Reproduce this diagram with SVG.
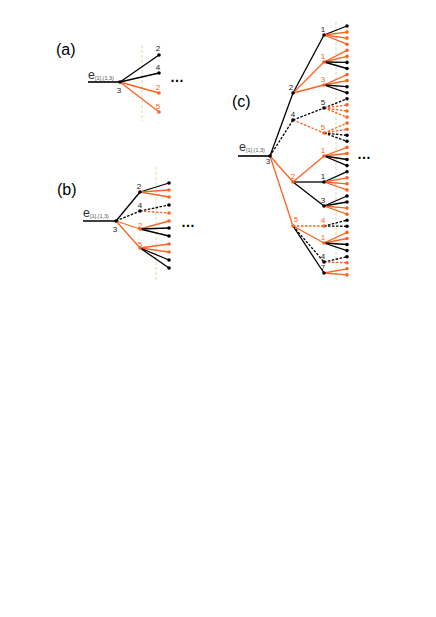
<svg xmlns="http://www.w3.org/2000/svg" width="436" height="617" viewBox="0 0 436 617">
<style>
.b{stroke:#000;stroke-width:1.3;fill:none}
.o{stroke:#fa6420;stroke-width:1.3;fill:none}
.d{stroke-dasharray:2.5,1.5}
.g{stroke:#b5dd8f;stroke-width:0.8;stroke-dasharray:3,2;fill:none}
.root{stroke:#000;stroke-width:1.6}
.nb{fill:#000}
.no{fill:#fa6420}
text{font-family:"Liberation Sans",Arial,sans-serif}
.n{font-size:8px;text-anchor:middle}
.tb{fill:#222}
.to{fill:#fa6420}
.p{font-size:16px;fill:#000}
.e{font-size:12.5px;fill:#333}
.s{font-size:5.5px;fill:#555}
.dots{font-size:14px;fill:#000;font-weight:bold}
</style>
<g id="guides">
<line class="g" x1="142" y1="45" x2="142" y2="121"/>
<line class="g" x1="156" y1="167" x2="156" y2="280"/>
<line class="g" x1="336" y1="22" x2="336" y2="283"/>
</g>
<g id="connectors">
<line class="root" x1="88" y1="82" x2="120" y2="82"/>
<line class="b" x1="120" y1="82" x2="159" y2="55"/>
<line class="b" x1="120" y1="82" x2="159" y2="73"/>
<line class="o" x1="120" y1="82" x2="159" y2="93"/>
<line class="o" x1="120" y1="82" x2="159" y2="112"/>
<line class="root" x1="83" y1="221" x2="116" y2="221"/>
<line class="b" x1="116" y1="221" x2="140" y2="192"/>
<line class="b d" x1="116" y1="221" x2="140" y2="211"/>
<line class="o" x1="116" y1="221" x2="140" y2="229"/>
<line class="o" x1="116" y1="221" x2="140" y2="248"/>
<line class="b" x1="140" y1="192" x2="169" y2="183"/>
<line class="o" x1="140" y1="192" x2="169" y2="190"/>
<line class="o" x1="140" y1="192" x2="169" y2="197"/>
<line class="b d" x1="140" y1="211" x2="169" y2="205"/>
<line class="o d" x1="140" y1="211" x2="169" y2="213"/>
<line class="o" x1="140" y1="229" x2="169" y2="221"/>
<line class="b" x1="140" y1="229" x2="169" y2="228"/>
<line class="b" x1="140" y1="229" x2="169" y2="236"/>
<line class="o" x1="140" y1="248" x2="169" y2="244"/>
<line class="o" x1="140" y1="248" x2="169" y2="252"/>
<line class="b" x1="140" y1="248" x2="169" y2="260"/>
<line class="b" x1="140" y1="248" x2="169" y2="268"/>
<line class="root" x1="238" y1="156" x2="270" y2="156"/>
<line class="b" x1="270" y1="156" x2="293" y2="93"/>
<line class="b d" x1="270" y1="156" x2="293" y2="120"/>
<line class="o" x1="270" y1="156" x2="293" y2="182"/>
<line class="o" x1="270" y1="156" x2="293" y2="226"/>
<line class="b" x1="293" y1="93" x2="324" y2="35"/>
<line class="o" x1="293" y1="93" x2="324" y2="62"/>
<line class="o" x1="293" y1="93" x2="324" y2="85"/>
<line class="b d" x1="293" y1="120" x2="324" y2="108"/>
<line class="o d" x1="293" y1="120" x2="324" y2="133"/>
<line class="o" x1="293" y1="182" x2="324" y2="156"/>
<line class="b" x1="293" y1="182" x2="324" y2="182"/>
<line class="b" x1="293" y1="182" x2="324" y2="206"/>
<line class="o d" x1="293" y1="226" x2="324" y2="226"/>
<line class="o" x1="293" y1="226" x2="324" y2="243"/>
<line class="b d" x1="293" y1="226" x2="324" y2="262"/>
<line class="b" x1="293" y1="226" x2="324" y2="273"/>
<line class="b" x1="324" y1="35" x2="347" y2="26"/>
<line class="o" x1="324" y1="35" x2="347" y2="32.1"/>
<line class="o" x1="324" y1="35" x2="347" y2="38.1"/>
<line class="o" x1="324" y1="35" x2="347" y2="44.2"/>
<line class="o" x1="324" y1="62" x2="347" y2="50.3"/>
<line class="o" x1="324" y1="62" x2="347" y2="56.4"/>
<line class="b" x1="324" y1="62" x2="347" y2="62.4"/>
<line class="b" x1="324" y1="62" x2="347" y2="68.5"/>
<line class="o" x1="324" y1="85" x2="347" y2="74.6"/>
<line class="o" x1="324" y1="85" x2="347" y2="80.6"/>
<line class="b" x1="324" y1="85" x2="347" y2="86.7"/>
<line class="b" x1="324" y1="85" x2="347" y2="92.8"/>
<line class="b d" x1="324" y1="108" x2="347" y2="98.8"/>
<line class="o d" x1="324" y1="108" x2="347" y2="104.9"/>
<line class="o d" x1="324" y1="108" x2="347" y2="111"/>
<line class="o d" x1="324" y1="108" x2="347" y2="117.1"/>
<line class="o d" x1="324" y1="133" x2="347" y2="123.1"/>
<line class="o d" x1="324" y1="133" x2="347" y2="129.2"/>
<line class="b d" x1="324" y1="133" x2="347" y2="135.3"/>
<line class="b d" x1="324" y1="133" x2="347" y2="141.3"/>
<line class="o" x1="324" y1="156" x2="347" y2="147.4"/>
<line class="o" x1="324" y1="156" x2="347" y2="153.5"/>
<line class="b" x1="324" y1="156" x2="347" y2="159.5"/>
<line class="b" x1="324" y1="156" x2="347" y2="165.6"/>
<line class="b" x1="324" y1="182" x2="347" y2="171.7"/>
<line class="o" x1="324" y1="182" x2="347" y2="177.8"/>
<line class="o" x1="324" y1="182" x2="347" y2="183.8"/>
<line class="o" x1="324" y1="182" x2="347" y2="189.9"/>
<line class="b" x1="324" y1="206" x2="347" y2="196"/>
<line class="b" x1="324" y1="206" x2="347" y2="202"/>
<line class="o" x1="324" y1="206" x2="347" y2="208.1"/>
<line class="o" x1="324" y1="206" x2="347" y2="214.2"/>
<line class="b d" x1="324" y1="226" x2="347" y2="220.2"/>
<line class="b d" x1="324" y1="226" x2="347" y2="226.3"/>
<line class="o" x1="324" y1="243" x2="347" y2="232.4"/>
<line class="o" x1="324" y1="243" x2="347" y2="238.5"/>
<line class="b" x1="324" y1="243" x2="347" y2="244.5"/>
<line class="b" x1="324" y1="243" x2="347" y2="250.6"/>
<line class="b d" x1="324" y1="262" x2="347" y2="256.7"/>
<line class="o d" x1="324" y1="262" x2="347" y2="262.7"/>
<line class="o" x1="324" y1="273" x2="347" y2="268.8"/>
<line class="o" x1="324" y1="273" x2="347" y2="274.9"/>
</g>
<g id="panel-a">
<text class="p" x="56" y="55">(a)</text>
<text class="e" x="88" y="79">e<tspan class="s" dy="1">[1],(1,3)</tspan></text>
<g id="a-root"><circle class="nb" cx="120" cy="82" r="1.8"/><text class="n tb" x="119" y="93">3</text></g>
<g id="a-n2"><circle class="nb" cx="159" cy="55" r="1.8"/><text class="n tb" x="158" y="51">2</text></g>
<g id="a-n4"><circle class="nb" cx="159" cy="73" r="1.8"/><text class="n tb" x="158" y="70">4</text></g>
<g id="a-o2"><circle class="no" cx="159" cy="93" r="1.8"/><text class="n to" x="158" y="90">2</text></g>
<g id="a-o5"><circle class="no" cx="159" cy="112" r="1.8"/><text class="n to" x="158" y="109">5</text></g>
<text class="dots" x="170" y="82">…</text>
</g>
<g id="panel-b">
<text class="p" x="57" y="195">(b)</text>
<text class="e" x="83" y="217">e<tspan class="s" dy="1">[1],(1,3)</tspan></text>
<g id="b-root"><circle class="nb" cx="116" cy="221" r="1.8"/><text class="n tb" x="115" y="232">3</text></g>
<g id="b-n2"><circle class="nb" cx="140" cy="192" r="1.8"/><text class="n tb" x="139" y="189">2</text></g>
<g id="b-n4"><circle class="nb" cx="140" cy="211" r="1.8"/><text class="n tb" x="140" y="208">4</text></g>
<g id="b-o2"><circle class="no" cx="140" cy="229" r="1.8"/><text class="n to" x="140" y="228">2</text></g>
<g id="b-o5"><circle class="no" cx="140" cy="248" r="1.8"/><text class="n to" x="140" y="247">5</text></g>
<g id="b-leaves">
<circle class="nb" cx="169" cy="183" r="1.8"/><circle class="no" cx="169" cy="190" r="1.8"/><circle class="no" cx="169" cy="197" r="1.8"/>
<circle class="nb" cx="169" cy="205" r="1.8"/><circle class="no" cx="169" cy="213" r="1.8"/>
<circle class="no" cx="169" cy="221" r="1.8"/><circle class="nb" cx="169" cy="228" r="1.8"/><circle class="nb" cx="169" cy="236" r="1.8"/>
<circle class="no" cx="169" cy="244" r="1.8"/><circle class="no" cx="169" cy="252" r="1.8"/><circle class="nb" cx="169" cy="260" r="1.8"/><circle class="nb" cx="169" cy="268" r="1.8"/>
</g>
<text class="dots" x="181" y="227">…</text>
</g>
<g id="panel-c">
<text class="p" x="232" y="107">(c)</text>
<text class="e" x="239" y="151">e<tspan class="s" dy="1">[1],(1,3)</tspan></text>
<g id="c-root"><circle class="nb" cx="270" cy="156" r="1.8"/><text class="n tb" x="268" y="164">3</text></g>
<g id="c-l1-2"><circle class="nb" cx="293" cy="93" r="1.8"/><text class="n tb" x="291" y="90">2</text></g>
<g id="c-l1-4"><circle class="nb" cx="293" cy="120" r="1.8"/><text class="n tb" x="293" y="117">4</text></g>
<g id="c-l1-o2"><circle class="no" cx="293" cy="182" r="1.8"/><text class="n to" x="293" y="179">2</text></g>
<g id="c-l1-o5"><circle class="no" cx="293" cy="226" r="1.8"/><text class="n to" x="296" y="222">5</text></g>
<g id="c-l2-1"><circle class="nb" cx="324" cy="35" r="1.8"/><text class="n tb" x="323" y="32">1</text></g>
<g id="c-l2-o1a"><circle class="no" cx="324" cy="62" r="1.8"/><text class="n to" x="323" y="59">1</text></g>
<g id="c-l2-o3"><circle class="no" cx="324" cy="85" r="1.8"/><text class="n to" x="323" y="82">3</text></g>
<g id="c-l2-5"><circle class="nb" cx="324" cy="108" r="1.8"/><text class="n tb" x="323" y="105">5</text></g>
<g id="c-l2-o5"><circle class="no" cx="324" cy="133" r="1.8"/><text class="n to" x="323" y="130">5</text></g>
<g id="c-l2-o1b"><circle class="no" cx="324" cy="156" r="1.8"/><text class="n to" x="323" y="153">1</text></g>
<g id="c-l2-1b"><circle class="nb" cx="324" cy="182" r="1.8"/><text class="n tb" x="323" y="179">1</text></g>
<g id="c-l2-3"><circle class="nb" cx="324" cy="206" r="1.8"/><text class="n tb" x="323" y="203">3</text></g>
<g id="c-l2-o4"><circle class="no" cx="324" cy="226" r="1.8"/><text class="n to" x="323" y="223">4</text></g>
<g id="c-l2-o1c"><circle class="no" cx="324" cy="243" r="1.8"/><text class="n to" x="323" y="240">1</text></g>
<g id="c-l2-4"><circle class="nb" cx="324" cy="262" r="1.8"/><text class="n tb" x="323" y="259">4</text></g>
<g id="c-l2-7"><circle class="nb" cx="324" cy="273" r="1.8"/><text class="n tb" x="323" y="270">7</text></g>
<g id="c-leaves">
<circle class="nb" cx="347" cy="26" r="1.8"/><circle class="no" cx="347" cy="32.1" r="1.8"/><circle class="no" cx="347" cy="38.1" r="1.8"/><circle class="no" cx="347" cy="44.2" r="1.8"/>
<circle class="no" cx="347" cy="50.3" r="1.8"/><circle class="no" cx="347" cy="56.4" r="1.8"/><circle class="nb" cx="347" cy="62.4" r="1.8"/><circle class="nb" cx="347" cy="68.5" r="1.8"/>
<circle class="no" cx="347" cy="74.6" r="1.8"/><circle class="no" cx="347" cy="80.6" r="1.8"/><circle class="nb" cx="347" cy="86.7" r="1.8"/><circle class="nb" cx="347" cy="92.8" r="1.8"/>
<circle class="nb" cx="347" cy="98.8" r="1.8"/><circle class="no" cx="347" cy="104.9" r="1.8"/><circle class="no" cx="347" cy="111" r="1.8"/><circle class="no" cx="347" cy="117.1" r="1.8"/>
<circle class="no" cx="347" cy="123.1" r="1.8"/><circle class="no" cx="347" cy="129.2" r="1.8"/><circle class="nb" cx="347" cy="135.3" r="1.8"/><circle class="nb" cx="347" cy="141.3" r="1.8"/>
<circle class="no" cx="347" cy="147.4" r="1.8"/><circle class="no" cx="347" cy="153.5" r="1.8"/><circle class="nb" cx="347" cy="159.5" r="1.8"/><circle class="nb" cx="347" cy="165.6" r="1.8"/>
<circle class="nb" cx="347" cy="171.7" r="1.8"/><circle class="no" cx="347" cy="177.8" r="1.8"/><circle class="no" cx="347" cy="183.8" r="1.8"/><circle class="no" cx="347" cy="189.9" r="1.8"/>
<circle class="nb" cx="347" cy="196" r="1.8"/><circle class="nb" cx="347" cy="202" r="1.8"/><circle class="no" cx="347" cy="208.1" r="1.8"/><circle class="no" cx="347" cy="214.2" r="1.8"/>
<circle class="nb" cx="347" cy="220.2" r="1.8"/><circle class="nb" cx="347" cy="226.3" r="1.8"/>
<circle class="no" cx="347" cy="232.4" r="1.8"/><circle class="no" cx="347" cy="238.5" r="1.8"/><circle class="nb" cx="347" cy="244.5" r="1.8"/><circle class="nb" cx="347" cy="250.6" r="1.8"/>
<circle class="nb" cx="347" cy="256.7" r="1.8"/><circle class="no" cx="347" cy="262.7" r="1.8"/>
<circle class="no" cx="347" cy="268.8" r="1.8"/><circle class="no" cx="347" cy="274.9" r="1.8"/>
</g>
<text class="dots" x="357" y="159">…</text>
</g>
</svg>
